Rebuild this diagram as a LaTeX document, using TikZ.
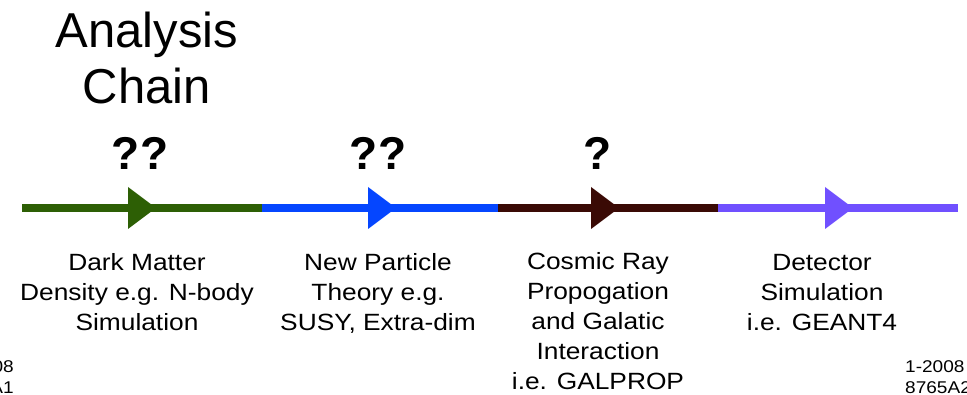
\documentclass[tikz,border=0pt]{standalone}
\usepackage{fontspec}
\setmainfont{Liberation Sans}
\newfontfamily\lblfont[FakeStretch=1.12]{Liberation Sans}
\definecolor{cgreen}{RGB}{45,95,5}
\definecolor{cblue}{RGB}{5,70,255}
\definecolor{cbrown}{RGB}{58,10,5}
\definecolor{cpurple}{RGB}{112,80,255}
\begin{document}
\begin{tikzpicture}[x=1pt,y=-1pt,
  seg/.style={line width=8pt},
  lbl/.style={font=\lblfont\fontsize{23.5}{30}\selectfont, align=center, anchor=base, inner sep=0pt},
  qm/.style={font=\fontsize{46}{50}\selectfont\bfseries, inner sep=0pt},
  corner/.style={font=\lblfont\fontsize{17}{21}\selectfont, inner sep=0pt}]
\useasboundingbox (0,0) rectangle (967,395);
\node[font=\fontsize{49}{56}\selectfont, align=center, inner sep=0pt] (title) at (147,58) {Analysis\\Chain};
\coordinate (p0) at (22,208);
\coordinate (p1) at (262,208);
\coordinate (p2) at (498,208);
\coordinate (p3) at (718,208);
\coordinate (p4) at (958,208);
\draw[seg,cgreen] (p0) -- (p1);
\draw[seg,cblue] (p1) -- (p2);
\draw[seg,cbrown] (p2) -- (p3);
\draw[seg,cpurple] (p3) -- (p4);
\foreach \t/\c in {156/cgreen, 396/cblue, 619/cbrown, 853/cpurple}{
  \fill[\c] (\t,208) -- (\t-28,187) -- (\t-28,229) -- cycle;
}
\node[qm] (q1) at (140,153) {??};
\node[qm] (q2) at (378,153) {??};
\node[qm] (q3) at (598,153) {?};
\node[lbl] (l1) at (137,331) {Dark Matter\\Density e.g. N-body\\Simulation};
\node[lbl] (l2) at (378,331) {New Particle\\Theory e.g.\\SUSY, Extra-dim};
\node[lbl] (l3) at (598,390) {Cosmic Ray\\Propogation\\and Galatic\\Interaction\\i.e. GALPROP};
\node[lbl] (l4) at (822,331) {Detector\\Simulation\\i.e. GEANT4};
\node[corner, align=right, anchor=base east] (c1) at (14,394) {1-2008\\8765A1};
\node[corner, align=left, anchor=base west] (c2) at (905,394) {1-2008\\8765A2};
\end{tikzpicture}
\end{document}
